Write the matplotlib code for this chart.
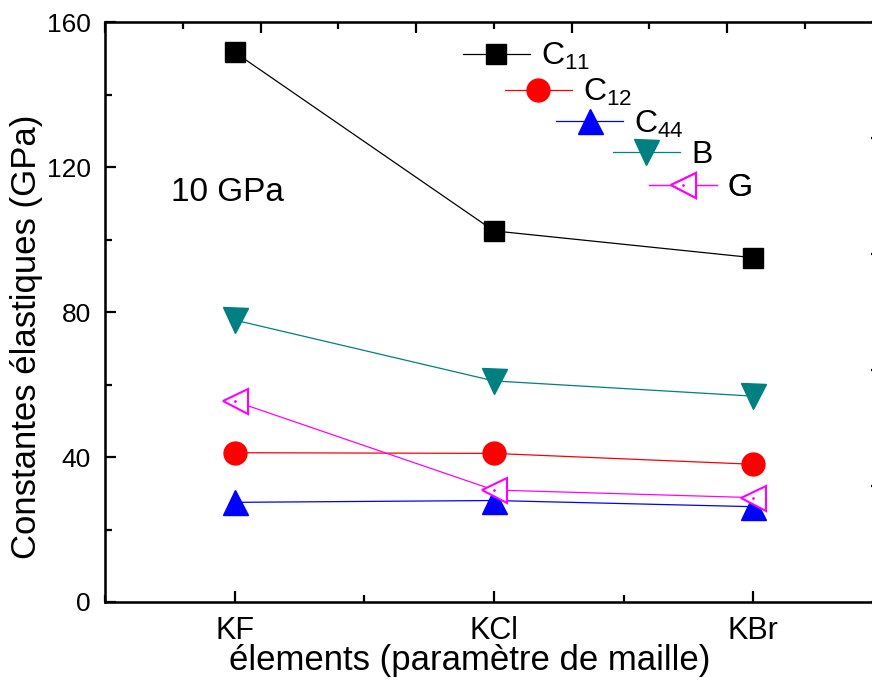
import numpy as np
import matplotlib
matplotlib.use('Agg')
import matplotlib.pyplot as plt
from matplotlib.ticker import MultipleLocator, NullFormatter
from matplotlib.legend_handler import HandlerTuple

plt.rcParams['font.family'] = ['Liberation Sans', 'DejaVu Sans']
plt.rcParams['mathtext.fontset'] = 'custom'
plt.rcParams['mathtext.rm'] = 'Liberation Sans'
plt.rcParams['mathtext.it'] = 'Liberation Sans:italic'

# constantes élastiques (GPa) pour KF, KCl, KBr
elements = ['KF', 'KCl', 'KBr']
C11 = [151.7, 102.4, 95.0]
C12 = [41.2, 41.0, 38.0]
C44 = [27.5, 28.0, 26.3]
B = [77.8, 61.0, 56.8]
G = [55.4, 30.9, 28.8]

x = np.arange(1, len(elements) + 1)

fig = plt.figure(figsize=(8.72, 6.83), dpi=100)
ax = fig.add_axes([0.1204, 0.1186, 0.892, 0.849])

l11, = ax.plot(x, C11, '-', color='black', lw=0.9, marker='s', ms=15, mec='black')
l12, = ax.plot(x, C12, '-', color='red', lw=0.9, marker='o', ms=16.5, mec='red')
l44, = ax.plot(x, C44, '-', color='blue', lw=0.9, marker='^', ms=18, mec='blue')
lB, = ax.plot(x, B, '-', color='#008080', lw=0.9, marker='v', ms=18, mec='#008080')
lG, = ax.plot(x, G, '-', color='magenta', lw=0.9, marker='<', ms=18,
              mfc='white', mec='magenta', mew=1.5)
dG, = ax.plot(x, G, ls='none', marker='.', ms=2, color='magenta')

ax.set_xlim(0.5, 3.5)
ax.set_ylim(0, 160)
ax.set_xticks(x)
ax.set_xticklabels(elements, fontsize=22)
ax.xaxis.set_minor_locator(MultipleLocator(0.5))
ax.yaxis.set_major_locator(MultipleLocator(40))
ax.yaxis.set_minor_locator(MultipleLocator(20))
ax.tick_params(axis='y', which='major', labelsize=19, pad=10)
ax.tick_params(axis='x', which='major', pad=10)
ax.tick_params(which='both', direction='in', width=1.6, top=False, right=False)
ax.tick_params(which='major', length=8)
ax.tick_params(which='minor', length=5)
for s in ax.spines.values():
    s.set_linewidth(1.8)

ax.set_xlabel('élements (paramètre de maille)', fontsize=25)
ax.set_ylabel('Constantes élastiques (GPa)', fontsize=25)
ax.xaxis.set_label_coords(0.469, -0.072)
ax.yaxis.set_label_coords(-0.080, 0.457)

# axes secondaires (graduations seules)
axt = ax.twiny()
axt.set_xlim(0, 5)
axt.xaxis.set_major_locator(MultipleLocator(1))
axt.xaxis.set_minor_locator(MultipleLocator(0.5))
axt.xaxis.set_major_formatter(NullFormatter())
axt.tick_params(which='both', direction='in', width=1.6)
axt.tick_params(which='major', length=8)
axt.tick_params(which='minor', length=5)

axr = ax.twinx()
axr.set_ylim(0, 5)
axr.yaxis.set_major_locator(MultipleLocator(1))
axr.yaxis.set_major_formatter(NullFormatter())
axr.tick_params(which='major', direction='in', width=1.6, length=9)

ax.text(0.157, 0.707, '10 GPa', transform=ax.transAxes, fontsize=24,
        ha='center', va='center')

# légende en escalier
entries = [
    (l11, r'C$_{\mathrm{11}}$', 0.460, 0.940),
    (l12, r'C$_{\mathrm{12}}$', 0.514, 0.878),
    (l44, r'C$_{\mathrm{44}}$', 0.580, 0.824),
    (lB, 'B', 0.653, 0.771),
    ((lG, dG), 'G', 0.700, 0.714),
]
for h, lab, bx, by in entries:
    leg = ax.legend([h], [lab], loc='center left', bbox_to_anchor=(bx, by),
                    bbox_transform=ax.transAxes, frameon=False, fontsize=23,
                    borderpad=0, borderaxespad=0, handlelength=2.1,
                    handletextpad=0.35, handler_map={tuple: HandlerTuple(ndivide=1)})
    ax.add_artist(leg)

fig.savefig('out.png', dpi=100)
